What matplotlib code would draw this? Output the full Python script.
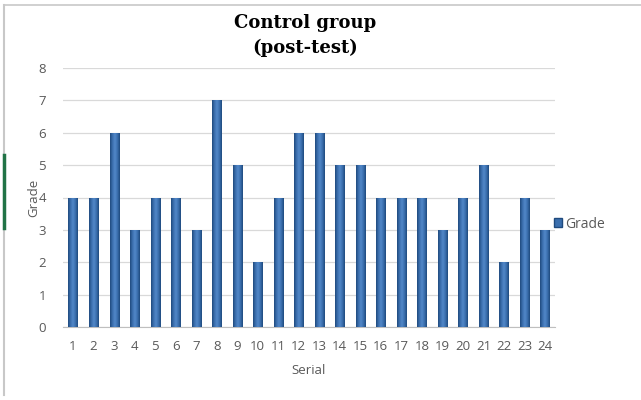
import matplotlib.pyplot as plt
import numpy as np
from matplotlib.colors import LinearSegmentedColormap
from matplotlib.lines import Line2D
from matplotlib.patches import Patch

serial = list(range(1, 25))
grade = [4, 4, 6, 3, 4, 4, 3, 7, 5, 2, 4, 6, 6, 5, 5, 4, 4, 4, 3, 4, 5, 2, 4, 3]

title = "Control group\n(post-test)"
series_name = "Grade"

label_color = "#595959"
grid_color = "#D9D9D9"
bar_cmap = LinearSegmentedColormap.from_list(
    "bar", ["#1F4A7E", "#3B6FAE", "#5288C8", "#3B6FAE", "#1F4A7E"])

fig = plt.figure(figsize=(6.41, 4.0), dpi=100)
fig.patch.set_facecolor("white")

# frame around the chart area
fig.add_artist(Line2D([0.006, 1.0], [0.987, 0.987], color="#C8C8C8", lw=1.2))
fig.add_artist(Line2D([0.007, 0.007], [0.987, 0.012], color="#C8C8C8", lw=1.5))
fig.add_artist(Line2D([0.006, 0.006], [0.43, 0.612], color="#217346", lw=2.5))

ax = fig.add_axes([0.0979, 0.1825, 0.7683, 0.6475])
x = np.arange(len(serial))
bars = ax.bar(x, grade, width=0.44, color="#3B6FAE", zorder=2)

# horizontal gradient fill inside each bar
grad = np.linspace(0, 1, 64).reshape(1, -1)
for b in bars:
    x0, y0 = b.get_x(), b.get_y()
    im = ax.imshow(grad, cmap=bar_cmap, aspect="auto", zorder=3,
                   extent=[x0, x0 + b.get_width(), y0, y0 + b.get_height()])
    im.set_clip_path(b)

ax.set_xlim(-0.5, len(serial) - 0.5)
ax.set_ylim(0, 8)
ax.set_yticks(range(0, 9))
ax.set_xticks(x)
ax.set_xticklabels([str(s) for s in serial])
ax.grid(axis="y", color=grid_color, lw=0.9, zorder=0)
ax.set_axisbelow(True)

for side in ["left", "right", "top"]:
    ax.spines[side].set_visible(False)
ax.spines["bottom"].set_color("#BFBFBF")
ax.tick_params(axis="both", length=0, colors=label_color, labelsize=9.5)
ax.tick_params(axis="x", pad=9)
ax.tick_params(axis="y", pad=12)
for lbl in ax.get_xticklabels() + ax.get_yticklabels():
    lbl.set_fontfamily("Open Sans")

ax.set_xlabel("Serial", color=label_color, fontsize=9.5, family="Open Sans", labelpad=8)
ax.set_ylabel("Grade", color=label_color, fontsize=9.5, family="Open Sans", labelpad=-1)

fig.text(0.476, 0.965, title, ha="center", va="top", fontsize=13,
         fontweight="bold", family="DejaVu Serif", linespacing=1.45)

handle = Patch(facecolor="#3B6FAE", edgecolor="#1F4A7E")
leg = fig.legend([handle], [series_name], loc="center left",
                 bbox_to_anchor=(0.845, 0.44), frameon=False,
                 handlelength=0.6, handleheight=0.6, handletextpad=0.2,
                 prop={"family": "Open Sans", "size": 10})
for t in leg.get_texts():
    t.set_color(label_color)

fig.savefig("out.png", dpi=100, facecolor="white")
